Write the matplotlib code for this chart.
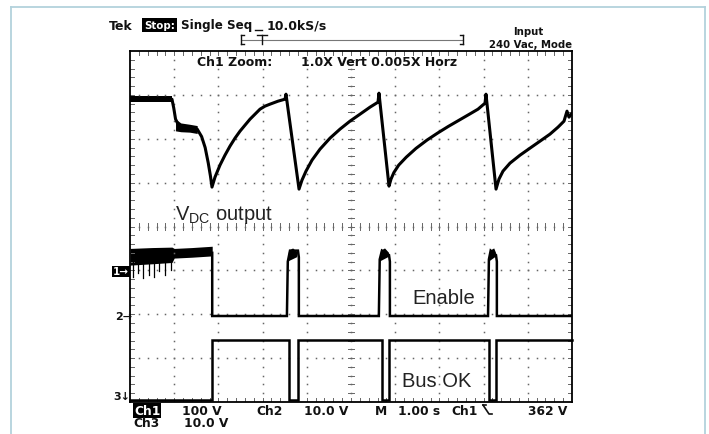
import numpy as np
import matplotlib
matplotlib.use('Agg')
import matplotlib.pyplot as plt
from matplotlib.lines import Line2D

W, H = 709, 435
plt.rcParams['mathtext.fontset'] = 'custom'
plt.rcParams['mathtext.rm'] = 'Liberation Sans'
plt.rcParams['mathtext.it'] = 'Liberation Sans'

# ---------------- data (time in s, 1.00 s/div; level in screen divisions) ----------------
# Ch1: V_DC output
vdc_pre_t = [0.0, 0.95]
vdc_pre_lo = [6.83, 6.83]
vdc_pre_hi = [6.97, 6.97]
vdc_sag_t = [1.03, 1.15, 1.35, 1.52]
vdc_sag_lo = [6.18, 6.16, 6.15, 6.12]
vdc_sag_hi = [6.45, 6.36, 6.33, 6.30]
vdc_t = [0.95, 0.99, 1.03, 1.10, 1.52, 1.62, 1.70, 1.77, 1.82,
         1.855, 1.923, 2.036, 2.149, 2.262, 2.376, 2.489, 2.602, 2.715, 2.828,
         2.941, 3.054, 3.167, 3.348, 3.507, 3.529,
         3.824, 3.891, 3.982, 4.118, 4.299, 4.525, 4.751, 4.977, 5.204, 5.430,
         5.611, 5.633,
         5.860, 5.905, 5.970, 6.080, 6.250, 6.470, 6.720, 6.960, 7.200, 7.440,
         7.680, 7.873, 8.032, 8.054,
         8.281, 8.348, 8.439, 8.597, 8.824, 9.050, 9.276, 9.502, 9.683, 9.819,
         9.887, 9.932, 10.0]
vdc_v = [6.90, 6.70, 6.45, 6.30, 6.22, 6.05, 5.80, 5.45, 5.15,
         4.898, 5.125, 5.399, 5.626, 5.831, 6.014, 6.173, 6.310, 6.446, 6.560,
         6.674, 6.743, 6.788, 6.856, 6.902, 7.016,
         4.852, 5.057, 5.262, 5.513, 5.763, 6.014, 6.219, 6.401, 6.560, 6.720,
         6.834, 7.039,
         4.920, 5.080, 5.230, 5.400, 5.580, 5.780, 5.970, 6.130, 6.280, 6.420,
         6.560, 6.674, 6.811, 7.016,
         4.852, 5.080, 5.262, 5.444, 5.626, 5.786, 5.945, 6.105, 6.264, 6.401,
         6.629, 6.492, 6.583]

# Ch2: Enable
en_noise_t = [0.0, 0.5, 0.95, 1.0, 1.4, 1.86]
en_noise_lo = [3.12, 3.15, 3.18, 3.28, 3.30, 3.33]
en_noise_hi = [3.50, 3.52, 3.53, 3.50, 3.52, 3.55]
en_spike_t = [0.07, 0.18, 0.30, 0.42, 0.55, 0.66, 0.80, 0.93]
en_spike_lo = [2.85, 2.95, 2.82, 2.90, 2.85, 2.98, 2.90, 3.00]
en_t = [1.86, 1.86, 3.55, 3.57, 3.62, 3.80, 3.82, 3.82,
        5.63, 5.65, 5.70, 5.86, 5.88, 5.88,
        8.10, 8.12, 8.16, 8.28, 8.30, 8.30, 10.0]
en_v = [3.40, 1.96, 1.96, 3.20, 3.45, 3.45, 3.30, 1.96,
        1.96, 3.25, 3.45, 3.35, 3.20, 1.96,
        1.96, 3.25, 3.45, 3.35, 3.20, 1.96, 1.96]
# filled tops of the enable pulses
en_pulse_start = [3.57, 5.65, 8.12]
en_pulse_end = [3.80, 5.86, 8.28]
en_pulse_lo = [3.05, 3.05, 3.05]
en_pulse_hi = [3.50, 3.50, 3.50]

# Ch3: Bus OK
bus_t = [0.0, 1.86, 1.86, 3.60, 3.60, 3.80, 3.80, 5.70, 5.70, 5.86, 5.86,
         8.12, 8.12, 8.28, 8.28, 10.0]
bus_v = [0.05, 0.05, 1.41, 1.41, 0.05, 0.05, 1.41, 1.41, 0.05, 0.05, 1.41,
         1.41, 0.05, 0.05, 1.41, 1.41]

# ---------------- figure ----------------
fig = plt.figure(figsize=(W / 100, H / 100), dpi=100)
fig.patch.set_facecolor('white')

def fx(x):
    return x / W

def fy(y):
    return 1 - y / H

# light card border
border = '#b3d2dc'
fig.add_artist(Line2D([fx(10.5), fx(10.5)], [fy(435), fy(7.5)], color=border, lw=1.3))
fig.add_artist(Line2D([fx(10.5), fx(705)], [fy(7.5), fy(7.5)], color=border, lw=1.3))
fig.add_artist(Line2D([fx(705), fx(705)], [fy(7.5), fy(435)], color=border, lw=1.3))

ax = fig.add_axes([fx(130), fy(403), (572 - 130) / W, (403 - 52) / H])
ax.set_xlim(0, 10)
ax.set_ylim(0, 8)
ax.set_xticks([])
ax.set_yticks([])
for s in ax.spines.values():
    s.set_linewidth(1.3)
    s.set_color('black')

# graticule
gcol = '#666666'
sub = np.arange(0.2, 10.0, 0.2)
subv = np.arange(0.2, 8.0, 0.2)
for i in range(1, 10):
    ax.plot(np.full_like(subv, i), subv, ls='none', marker='s', ms=1.1, color=gcol, mew=0)
for j in range(1, 8):
    ax.plot(sub, np.full_like(sub, j), ls='none', marker='s', ms=1.1, color=gcol, mew=0)
for x in sub:
    ax.plot([x, x], [3.93, 4.07], color=gcol, lw=0.7)
    ax.plot([x, x], [0, 0.08], color=gcol, lw=0.7)
    ax.plot([x, x], [7.92, 8], color=gcol, lw=0.7)
for y in subv:
    ax.plot([4.93, 5.07], [y, y], color=gcol, lw=0.7)
    ax.plot([0, 0.08], [y, y], color=gcol, lw=0.7)
    ax.plot([9.92, 10], [y, y], color=gcol, lw=0.7)

# traces
ax.fill_between(vdc_pre_t, vdc_pre_lo, vdc_pre_hi, color='black', lw=0)
ax.fill_between(vdc_sag_t, vdc_sag_lo, vdc_sag_hi, color='black', lw=0)
ax.plot(vdc_t, vdc_v, color='black', lw=2.2, solid_joinstyle='round', solid_capstyle='round')

ax.fill_between(en_noise_t, en_noise_lo, en_noise_hi, color='black', lw=0)
for t, lo in zip(en_spike_t, en_spike_lo):
    ax.plot([t, t], [lo, 3.3], color='black', lw=0.9)
for a, b, lo, hi in zip(en_pulse_start, en_pulse_end, en_pulse_lo, en_pulse_hi):
    ax.fill([a, a + 0.03, a + 0.12, b, b - 0.02], [lo + 0.15, hi - 0.05, hi, hi - 0.1, lo + 0.25],
            color='black', lw=0)
ax.plot(en_t, en_v, color='black', lw=1.8, solid_joinstyle='miter')

ax.plot(bus_t, bus_v, color='black', lw=1.8, solid_joinstyle='miter', clip_on=False)

# annotation labels
lab = dict(family='Liberation Sans', fontsize=14.5, color='#222222')
ax.text(1.02, 4.17, r'V$_{\mathrm{DC}}$ output', ha='left', va='baseline', **lab)
ax.text(6.38, 2.39, 'Enable', ha='left', va='center', **lab)
ax.text(6.15, 0.48, 'Bus OK', ha='left', va='center', **lab)

# scope texts
hdr = dict(family='DejaVu Sans', fontweight='bold', fontsize=9.0, color='#111111')
bot = dict(family='DejaVu Sans', fontweight='bold', fontsize=8.8, color='#111111')
fig.text(fx(109), fy(26), 'Tek', ha='left', va='center', **hdr)
fig.text(fx(144), fy(26), 'Stop:', ha='left', va='center', family='DejaVu Sans',
         fontweight='bold', fontsize=7.4, color='white',
         bbox=dict(facecolor='black', edgecolor='none', pad=1.2))
fig.text(fx(181), fy(26), 'Single Seq', ha='left', va='center',
         family='DejaVu Sans', fontweight='bold', fontsize=8.6, color='#111111')
fig.add_artist(Line2D([fx(255), fx(262)], [fy(31), fy(31)], color='#111111', lw=1))
fig.text(fx(327), fy(26), '10.0kS/s', ha='right', va='center', **hdr)

# record bracket
fig.add_artist(Line2D([fx(241), fx(463)], [fy(40.5), fy(40.5)], color='#777777', lw=0.8))
for xb, d in ((241, 3), (463, -3)):
    fig.add_artist(Line2D([fx(xb), fx(xb)], [fy(36), fy(45)], color='#111111', lw=1))
    fig.add_artist(Line2D([fx(xb), fx(xb + d)], [fy(36), fy(36)], color='#111111', lw=1))
    fig.add_artist(Line2D([fx(xb), fx(xb + d)], [fy(45), fy(45)], color='#111111', lw=1))
fig.add_artist(Line2D([fx(262), fx(262)], [fy(36), fy(45)], color='#111111', lw=1))
fig.add_artist(Line2D([fx(257), fx(267)], [fy(36), fy(36)], color='#111111', lw=1))

fig.text(fx(528), fy(32), 'Input', ha='center', va='center', family='DejaVu Sans',
         fontweight='bold', fontsize=7.3, color='#111111')
fig.text(fx(572), fy(45), '240 Vac, Mode', ha='right', va='center', family='DejaVu Sans',
         fontweight='bold', fontsize=7.3, color='#111111')

fig.text(fx(197), fy(63), 'Ch1 Zoom:', ha='left', va='center', **hdr)
fig.text(fx(457), fy(63), '1.0X Vert 0.005X Horz', ha='right', va='center', **hdr)

# channel markers
fig.text(fx(113), fy(272.5), '1\u2192', ha='left', va='center', family='DejaVu Sans',
         fontweight='bold', fontsize=7.5, color='white',
         bbox=dict(facecolor='black', edgecolor='none', pad=0.6))
fig.text(fx(115), fy(317), '2\u2192', ha='left', va='center', family='DejaVu Sans',
         fontweight='bold', fontsize=8, color='#111111')
fig.text(fx(113), fy(397), '3\u2193', ha='left', va='center', family='DejaVu Sans',
         fontweight='bold', fontsize=8, color='#111111')

# bottom readout
fig.text(fx(134), fy(411.5), 'Ch1', ha='left', va='center', family='DejaVu Sans',
         fontweight='bold', fontsize=8.8, color='white',
         bbox=dict(facecolor='black', edgecolor='none', pad=0.8))
fig.text(fx(222), fy(411.5), '100 V', ha='right', va='center', **bot)
fig.text(fx(256), fy(411.5), 'Ch2', ha='left', va='center', **bot)
fig.text(fx(348), fy(411.5), '10.0 V', ha='right', va='center', **bot)
fig.text(fx(375), fy(411.5), 'M', ha='left', va='center', **bot)
fig.text(fx(440), fy(411.5), '1.00 s', ha='right', va='center', **bot)
fig.text(fx(451), fy(411.5), 'Ch1', ha='left', va='center', **bot)
fig.add_artist(Line2D([fx(483), fx(489), fx(492)], [fy(406), fy(415), fy(415)], color='#111111', lw=1.2))
fig.add_artist(Line2D([fx(483), fx(486)], [fy(406), fy(406)], color='#111111', lw=1.2))
fig.text(fx(567), fy(411.5), '362 V', ha='right', va='center', **bot)
fig.text(fx(133), fy(424), 'Ch3', ha='left', va='center', **bot)
fig.text(fx(228), fy(424), '10.0 V', ha='right', va='center', **bot)

fig.savefig('out.png', dpi=100, facecolor='white')
